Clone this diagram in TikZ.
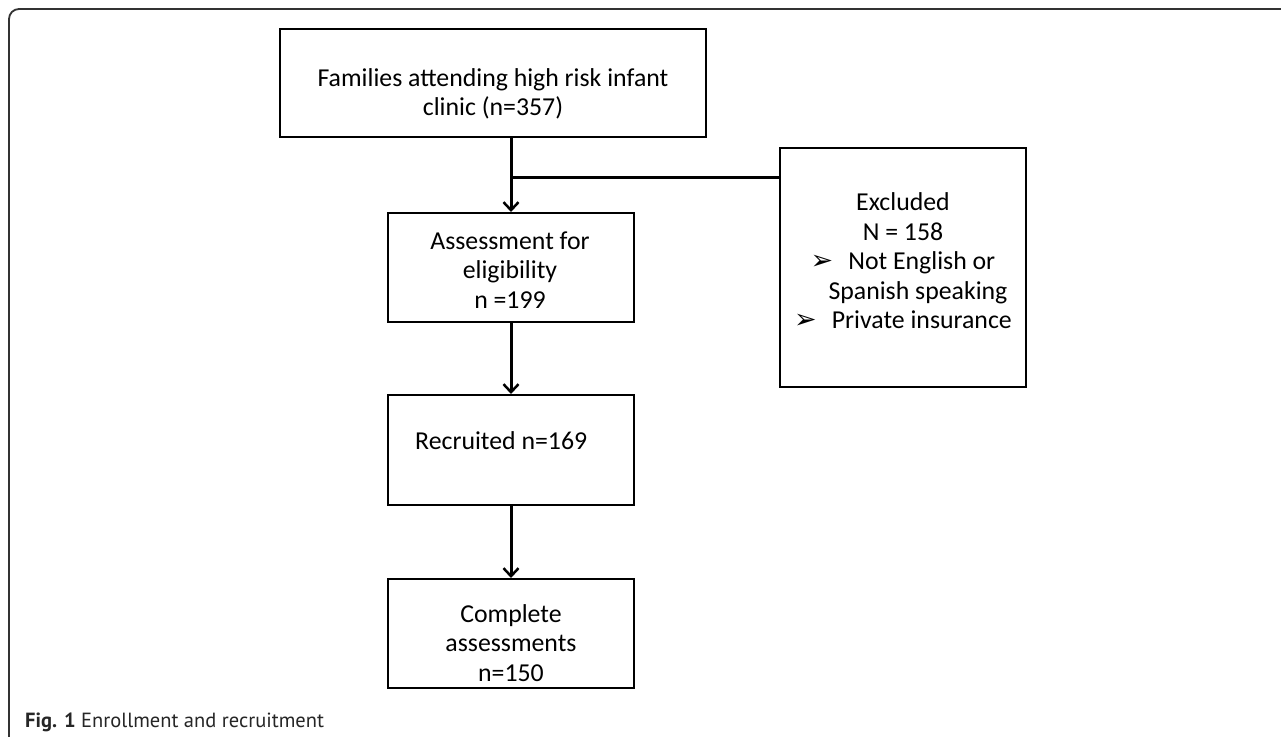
\documentclass[tikz,border=0pt]{standalone}
\usepackage{fontspec}
\setmainfont{Carlito}
\newfontfamily\dejavu{DejaVu Sans}
\newfontfamily\capfont{PT Sans}
\usetikzlibrary{arrows.meta}
\tikzset{
  box/.style={draw=black, line width=2bp, fill=white, minimum width=#1, inner sep=0pt},
  conn/.style={line width=3bp, -{Straight Barb[length=8bp,width=15bp,line width=2.5bp]}},
  plainline/.style={line width=3bp},
  txt/.style={font=\fontsize{25.8bp}{29.5bp}\selectfont, inner sep=0pt, align=center},
}
\newcommand\blt{{\dejavu\fontsize{27bp}{29bp}\selectfont ➢}\hspace{15bp}}
\begin{document}
\begin{tikzpicture}[x=1bp,y=-1bp]
\useasboundingbox (0,0) rectangle (1281,737);
\fill[white] (0,0) rectangle (1281,737);
% outer frame
\draw[line width=1.8bp, black!80, rounded corners=10bp] (1281,9) -- (9,9) -- (9,737);
% boxes
\node[box=426bp, minimum height=108bp] (b1) at (492.5,83) {};
\node[box=246bp, minimum height=109bp] (b2) at (511,267.5) {};
\node[box=246bp, minimum height=110bp] (b3) at (511,450) {};
\node[box=246bp, minimum height=109bp] (b4) at (511,633.5) {};
\node[box=246bp, minimum height=239bp] (ex) at (903,267.5) {};
% texts
\node[txt] (t1) at (493,94) {Families attending high risk infant\\clinic (n=357)};
\node[txt] (t2) at (510,270) {Assessment for\\eligibility\\n =199};
\node[txt, anchor=west] (t3) at (415,441) {Recruited n=169};
\node[txt] (t4) at (511,643) {Complete\\assessments\\n=150};
\node[txt] (t5) at (903,261) {Excluded\\N = 158\\\blt Not English or\\\hspace*{30bp}Spanish speaking\\\blt Private insurance};
% connectors
\coordinate (j) at (b2.north |- 0,177);
\draw[plainline] (j |- b1.south) -- (j);
\draw[plainline] (j) -- (ex.west |- j);
\draw[conn] (j) -- (b2.north);
\draw[conn] (b2.south) -- (b3.north);
\draw[conn] (b3.south) -- (b4.north);
% caption
\node[anchor=west, inner sep=0pt, text=black!85, font=\capfont\fontsize{20.5bp}{24bp}\selectfont] (cap) at (25,722) {\textbf{Fig. 1} Enrollment and recruitment};
\end{tikzpicture}
\end{document}
